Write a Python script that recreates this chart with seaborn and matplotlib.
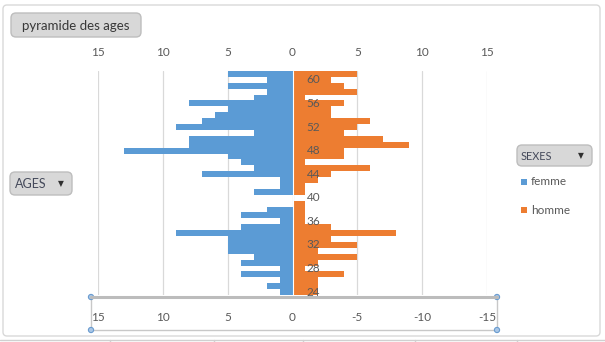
import matplotlib
matplotlib.use("Agg")
import matplotlib.pyplot as plt
import pandas as pd
import seaborn as sns
from matplotlib.patches import FancyBboxPatch, Rectangle, Circle

# Age pyramid: number of women / men per age
ages = list(range(61, 23, -1))
femme = [5, 2, 5, 2, 3, 8, 5, 6, 7, 9,
         3, 8, 8, 13, 5, 4, 3, 7, 1, 1,
         3, 0, 0, 2, 4, 1, 4, 9, 5, 5,
         5, 3, 4, 1, 4, 1, 2, 1]
homme = [5, 3, 4, 5, 1, 4, 3, 3, 6, 5,
         4, 7, 9, 4, 4, 1, 6, 3, 2, 1,
         1, 0, 1, 1, 1, 1, 3, 8, 3, 5,
         2, 5, 2, 1, 4, 2, 2, 2]
age_labels = list(range(24, 61, 4))
x_ticks = [-15, -10, -5, 0, 5, 10, 15]
top_labels = ["15", "10", "5", "0", "5", "10", "15"]
bottom_ticks = [15, 10, 5, 0, -5, -10, -15]
bottom_labels = ["15", "10", "5", "0", "-5", "-10", "-15"]
series = ["femme", "homme"]
colors = {"femme": "#5B9BD5", "homme": "#ED7D31"}

sns.set_style("white")
plt.rcParams["font.family"] = ["Lato", "DejaVu Sans"]
plt.rcParams["axes.unicode_minus"] = False

W, H = 605, 342
fig = plt.figure(figsize=(W / 100, H / 100), dpi=100)


def fx(x):
    return x / W


def fy(y):
    return 1 - y / H


ax = fig.add_axes([fx(98), fy(295), (487 - 98) / W, (295 - 71) / H])

df = pd.DataFrame({
    "age": ages * 2,
    "effectif": [-v for v in femme] + homme,
    "sexe": ["femme"] * len(ages) + ["homme"] * len(ages),
})
sns.barplot(data=df, x="effectif", y="age", hue="sexe", hue_order=series,
            orient="y", native_scale=True, dodge=False, width=1.0,
            palette=colors, saturation=1, errorbar=None, legend=False,
            linewidth=0, ax=ax, zorder=2)

ax.set_xlim(-15, 15)
ax.set_ylim(23.5, 61.5)
ax.axvline(0, color="white", lw=0.8, zorder=3)
ax.grid(axis="x", color="#d9d9d9", lw=0.9)
ax.grid(axis="y", visible=False)
ax.set_axisbelow(True)
for s in ax.spines.values():
    s.set_visible(False)
ax.set_xlabel("")
ax.set_ylabel("")
ax.set_yticks([])
ax.set_xticks(x_ticks, labels=top_labels)
ax.xaxis.tick_top()
ax.tick_params(axis="x", length=0, pad=9, labelsize=8.5, labelcolor="#595959")

sec = ax.secondary_xaxis("bottom", functions=(lambda v: -v, lambda v: -v))
sec.set_xticks(bottom_ticks, labels=bottom_labels)
sec.tick_params(length=0, pad=12, labelsize=8.5, labelcolor="#595959")
for s in sec.spines.values():
    s.set_visible(False)

for a in age_labels:
    ax.text(1.1, a, str(a), ha="left", va="center", fontsize=8.5,
            color="#595959", zorder=5)

# overlay in pixel coordinates for the frame, buttons and legend
ov = fig.add_axes([0, 0, 1, 1], zorder=10)
ov.set_xlim(0, W)
ov.set_ylim(H, 0)
ov.axis("off")
ov.patch.set_alpha(0)

ov.add_patch(FancyBboxPatch((3, 5), 597, 331, boxstyle="round,pad=0,rounding_size=4",
                            fc="none", ec="#d9d9d9", lw=1))
ov.plot([0, W], [339.5, 339.5], color="#d0d0d0", lw=1)
for xc in [110, 214, 303, 415, 517]:
    ov.plot([xc, xc], [339.5, 342], color="#d0d0d0", lw=1)


def button(x, y, w, h, label, size, arrow=False, tx=None):
    ov.add_patch(FancyBboxPatch((x, y), w, h, boxstyle="round,pad=0,rounding_size=5",
                                fc="#d8d8d8", ec="#bdbdbd", lw=1))
    if tx is None:
        ov.text(x + w / 2, y + h / 2 + 0.5, label, ha="center", va="center",
                fontsize=size, color="#383838")
    else:
        ov.text(tx, y + h / 2 + 0.5, label, ha="left", va="center",
                fontsize=size, color="#44495a")
    if arrow:
        ov.text(x + w - 11, y + h / 2 + 0.5, "\u25bc", ha="center", va="center",
                fontsize=5.5, color="#303030", family=["DejaVu Sans"])


button(11, 13, 130, 24, "pyramide des ages", 9.5)
button(10, 172, 62, 23, "AGES", 9, arrow=True, tx=15)
button(517, 145, 75, 21, "SEXES", 7.8, arrow=True, tx=521)

for name, yy in zip(series, [181.5, 210]):
    ov.add_patch(Rectangle((521, yy - 3), 6, 6, fc=colors[name], ec="none"))
    ov.text(531, yy, name, ha="left", va="center", fontsize=8.5, color="#595959")

# selected bottom axis box with handles
ov.add_patch(Rectangle((91, 297), 406, 33, fc="none", ec="#c8c8c8", lw=1))
ov.plot([91, 497], [297, 297], color="#bcbcbc", lw=2.2)
for hx, hy in [(91, 297), (497, 297), (91, 330), (497, 330)]:
    ov.add_patch(Circle((hx, hy), 2.6, fc="#a9c6e6", ec="#6a9ccf", lw=0.8))

fig.savefig("out.png", dpi=100)
